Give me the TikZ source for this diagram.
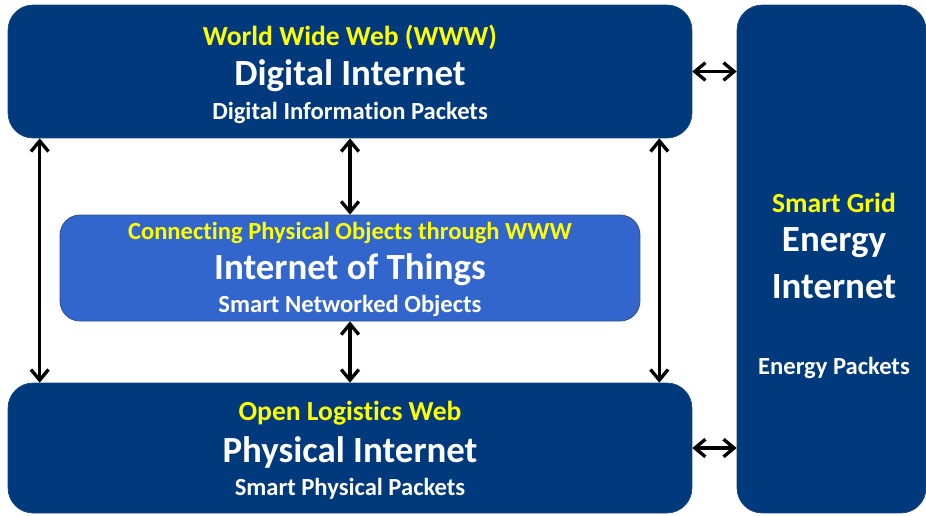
\documentclass[tikz,border=0pt]{standalone}
\usepackage{fontspec}
\setmainfont{Carlito}[Ligatures={NoCommon,TeX}]
\usetikzlibrary{arrows.meta}

\definecolor{darkbox}{RGB}{0,57,124}
\definecolor{iotbox}{RGB}{51,102,204}
\definecolor{iotline}{RGB}{47,82,143}
\definecolor{hiyellow}{RGB}{255,255,0}

\tikzset{
  bigbox/.style={draw=darkbox!80!gray, line width=0.4pt, fill=darkbox, rounded corners=0.5cm},
  midbox/.style={draw=iotline, line width=0.5pt, fill=iotbox, rounded corners=0.4cm},
  toptext/.style={text=hiyellow, font=\fontsize{15.7}{18}\selectfont\bfseries},
  maintext/.style={text=white, font=\fontsize{21}{24}\selectfont\bfseries},
  subtext/.style={text=white, font=\fontsize{14}{16}\selectfont\bfseries},
  link/.style={line width=1.9pt, {Straight Barb[length=6pt,width=10pt]}-{Straight Barb[length=6pt,width=10pt]}}
}

\begin{document}
\begin{tikzpicture}[x=0.02cm,y=-0.02cm]
\useasboundingbox (0,0) rectangle (926,515);
% boxes
\node [bigbox, minimum width=13.68cm, minimum height=2.66cm] (www) at (350,71.5) {};
\node [midbox, minimum width=11.6cm, minimum height=2.12cm] (iot) at (350,268) {};
\node [bigbox, minimum width=13.68cm, minimum height=2.6cm] (phy) at (350,448) {};
\node [bigbox, minimum width=3.78cm, minimum height=10.16cm] (grid) at (831.5,259) {};
% texts
\node [toptext] (wwwtop) at (350,37) {World Wide Web (WWW)};
\node [maintext] (wwwmain) at (350,76) {Digital Internet};
\node [subtext] (wwwsub) at (350,113) {Digital Information Packets};
\node [toptext, font=\fontsize{14}{16}\selectfont\bfseries] (iottop) at (350,233) {Connecting Physical Objects through WWW};
\node [maintext] (iotmain) at (350,270) {Internet of Things};
\node [subtext] (iotsub) at (350,306) {Smart Networked Objects};
\node [toptext] (phytop) at (350,413) {Open Logistics Web};
\node [maintext] (phymain) at (350,452) {Physical Internet};
\node [subtext] (physub) at (350,489) {Smart Physical Packets};
\node [toptext] (gridtop) at (834,203) {Smart Grid};
\node [maintext] (gridmain) at (834,243) {Energy};
\node [maintext] (gridmain2) at (834,287) {Internet};
\node [subtext] (gridsub) at (834,368) {Energy Packets};
% arrows
\draw [link] ([xshift=0.64cm]www.south west) -- ([xshift=0.64cm]phy.north west);
\draw [link] ([xshift=-0.66cm]www.south east) -- ([xshift=-0.66cm]phy.north east);
\draw [link] (www.south) -- (iot.north);
\draw [link] (iot.south) -- (phy.north);
\draw [link] (www.east) -- (www.east -| grid.west);
\draw [link] (phy.east) -- (phy.east -| grid.west);
\end{tikzpicture}
\end{document}
